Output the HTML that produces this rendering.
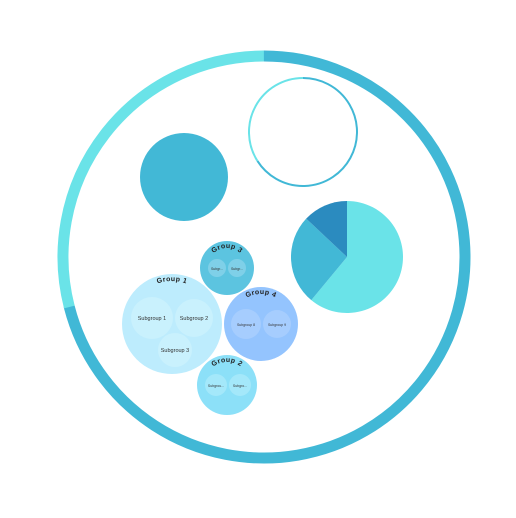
<!DOCTYPE html>
<html><head><meta charset="utf-8"><style>
html,body{margin:0;padding:0;background:#fff;width:516px;height:518px;overflow:hidden}
text{font-family:"Liberation Sans",sans-serif}
</style></head><body>
<svg id="chart" width="516" height="518" viewBox="0 0 516 518"></svg>
<script>
const ringValues=[71,29];
const ringColors=["#41b8d6","#6ae3e8"];
const smallRingValues=[66,34];
const pieValues=[61,26,13];
const pieColors=["#6ae3e8","#42b8d6","#2b8bbf"];
const groupNames=["Group 1","Group 3","Group 4","Group 2"];
const groupValues=[50,27,37,30];
const subNames=[["Subgroup 1","Subgroup 2","Subgroup 3"],["Subgr...","Subgr..."],["Subgroup 8","Subgroup 9"],["Subgrou...","Subgro..."]];
const subValues=[[21,19,17],[9,9],[15,14],[11,11]];
const NS="http://www.w3.org/2000/svg";
const svg=document.getElementById('chart');
function mk(t,a,p){const e=document.createElementNS(NS,t);for(const k in a)e.setAttribute(k,a[k]);(p||svg).appendChild(e);return e;}
function pt(cx,cy,r,f){const a=f*2*Math.PI;return [cx+r*Math.sin(a),cy-r*Math.cos(a)];}
function arc(cx,cy,r,f0,f1){const [x0,y0]=pt(cx,cy,r,f0),[x1,y1]=pt(cx,cy,r,f1);return `M${x0},${y0}A${r},${r} 0 ${f1-f0>0.5?1:0} 1 ${x1},${y1}`;}
function ring(cx,cy,r,w,vals,cols,name,cap){const tot=vals.reduce((a,b)=>a+b,0);let c=0;
 vals.forEach((v,i)=>{const e=mk('path',{d:arc(cx,cy,r,c/tot,(c+v)/tot-0.0001),fill:'none',stroke:cols[i],'stroke-width':w,'stroke-linecap':cap&&i==0?'round':'butt'});
 
 c+=v;});}
ring(264,257,201,11,ringValues,ringColors,'outer-ring',true);
ring(303,132,54,2,smallRingValues,["#41b8d6","#6ae3e8"],'small-ring',false);
const solid=mk('circle',{cx:184,cy:177,r:44,fill:'#42b8d6'});


(function(){const tot=pieValues.reduce((a,b)=>a+b,0);let c=0;const cx=347,cy=257,r=56;
pieValues.forEach((v,i)=>{const [x0,y0]=pt(cx,cy,r,c/tot),[x1,y1]=pt(cx,cy,r,(c+v)/tot);
const e=mk('path',{d:`M${cx},${cy}L${x0},${y0}A${r},${r} 0 ${v/tot>0.5?1:0} 1 ${x1},${y1}Z`,fill:pieColors[i]});

c+=v;});})();
const gPos=[[172,324],[227,268],[261,324],[227,385]];
const gCols=["#bdecfd","#5cc4e0","#94c4fe","#8ce0f8"];
const sCols=["#c9f1fd","#7fd0e8","#a6cdfe","#a4e8fa"];
const sOff=[[[-20,-6],[22,-6],[3,26]],[[-10,0],[10,0]],[[-15,0],[16,0]],[[-11,0],[13,0]]];
groupValues.forEach((r,i)=>{const [cx,cy]=gPos[i];
 const g=mk('circle',{cx,cy,r,fill:gCols[i]});
 
 
 const rr=r-7;
 const pid='lp'+i;mk('path',{id:pid,d:`M${cx-rr},${cy}A${rr},${rr} 0 0 1 ${cx+rr},${cy}`,fill:'none'});
 const t=mk('text',{'font-size':7,'font-weight':'bold',fill:'#222','text-anchor':'middle','letter-spacing':0.4});
 
 
 const tp=mk('textPath',{href:'#'+pid,startOffset:'50%'},t);tp.textContent=groupNames[i];
 subValues[i].forEach((sr,j)=>{const sx=cx+sOff[i][j][0],sy=cy+sOff[i][j][1];
  const s=mk('circle',{cx:sx,cy:sy,r:sr,fill:sCols[i]});
  
  
  const st=mk('text',{x:sx,y:sy+2,'font-size':i==0?5.5:3.5,fill:'#333','text-anchor':'middle'});
  
  
  st.textContent=subNames[i][j];});});
</script>
</body></html>
